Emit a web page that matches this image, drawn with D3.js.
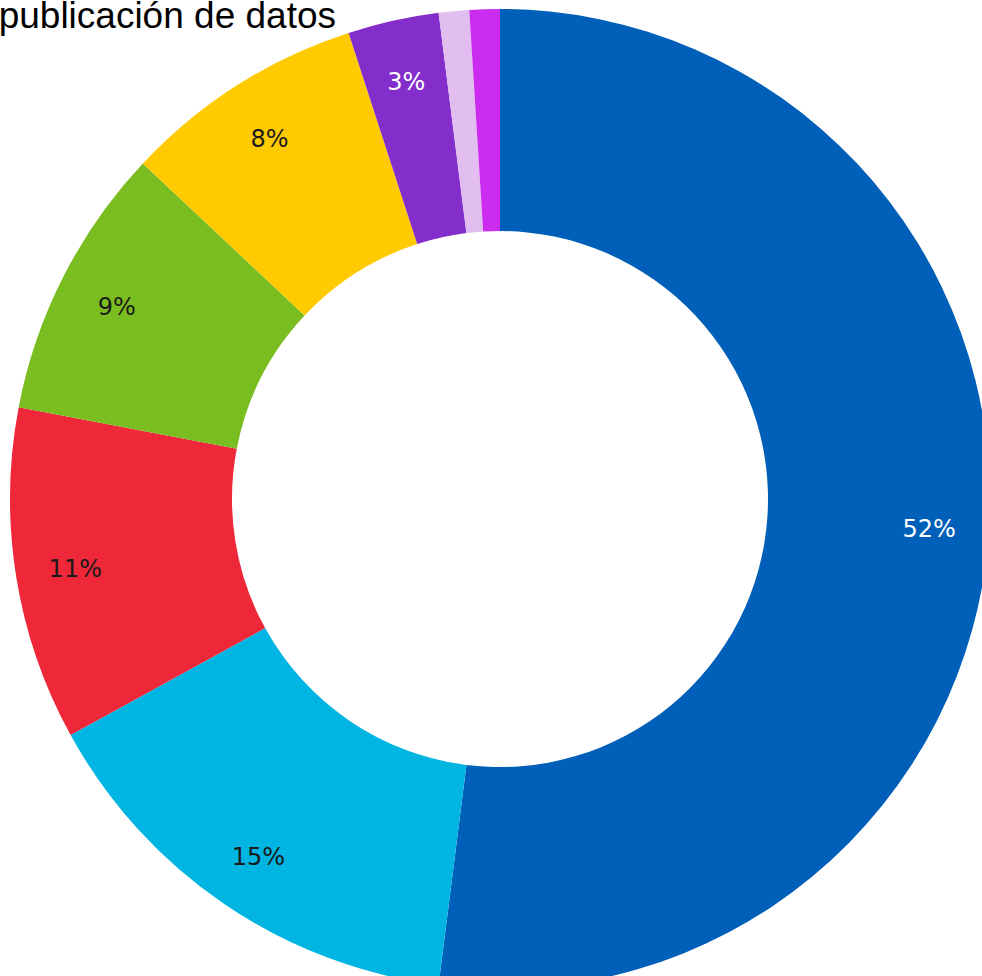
<!DOCTYPE html>
<html>
<head>
<meta charset="utf-8">
<script src="https://cdn.jsdelivr.net/npm/d3@7"></script>
<style>
  body { margin: 0; background: #fff; overflow: hidden; }
</style>
</head>
<body>
<div id="chart"></div>
<script>
// data
var categories = ["A", "B", "C", "D", "E", "F", "G", "H"];
var values = [52, 15, 11, 9, 8, 3, 1, 1];
var labels = ["52%", "15%", "11%", "9%", "8%", "3%", "", ""];
var colors = ["#005FB8", "#00B5E1", "#EE2739", "#7ABD21", "#FFCB00", "#832ECB", "#E1BDF0", "#CC2BF0"];
var labelColors = ["#fff", "#1a1a1a", "#1a1a1a", "#1a1a1a", "#1a1a1a", "#fff", "#1a1a1a", "#1a1a1a"];
var title = "Consumo de publicación de datos";

var width = 982, height = 976;
var cx = 500, cy = 499;
var outerR = 490, innerR = 268, labelR = 430;

var svg = d3.select("#chart")
  .append("svg")
  .attr("width", width)
  .attr("height", height);

var rows = categories.map((c, i) => ({cat: c, value: values[i], label: labels[i], color: colors[i], lc: labelColors[i]}));

var pie = d3.pie()
  .value(d => d.value)
  .sort(null);

var arc = d3.arc()
  .innerRadius(innerR)
  .outerRadius(outerR);

var labelArc = d3.arc()
  .innerRadius(labelR)
  .outerRadius(labelR);

var g = svg.append("g")
  .attr("transform", `translate(${cx},${cy})`);

var arcs = pie(rows);

g.selectAll("path")
  .data(arcs)
  .join("path")
  .attr("d", arc)
  .attr("fill", d => d.data.color);

g.selectAll("text.label")
  .data(arcs)
  .join("text")
  .attr("class", "label")
  .attr("transform", d => `translate(${labelArc.centroid(d)})`)
  .attr("text-anchor", "middle")
  .attr("dy", "0.45em")
  .style("font-family", "'DejaVu Sans', sans-serif")
  .style("font-size", "24px")
  .style("fill", d => d.data.lc)
  .text(d => d.data.label);

svg.append("text")
  .attr("x", 336)
  .attr("y", 28)
  .attr("text-anchor", "end")
  .style("font-family", "'Liberation Sans', Arial, sans-serif")
  .style("font-size", "37px")
  .style("fill", "#000")
  .text(title);
</script>
</body>
</html>
